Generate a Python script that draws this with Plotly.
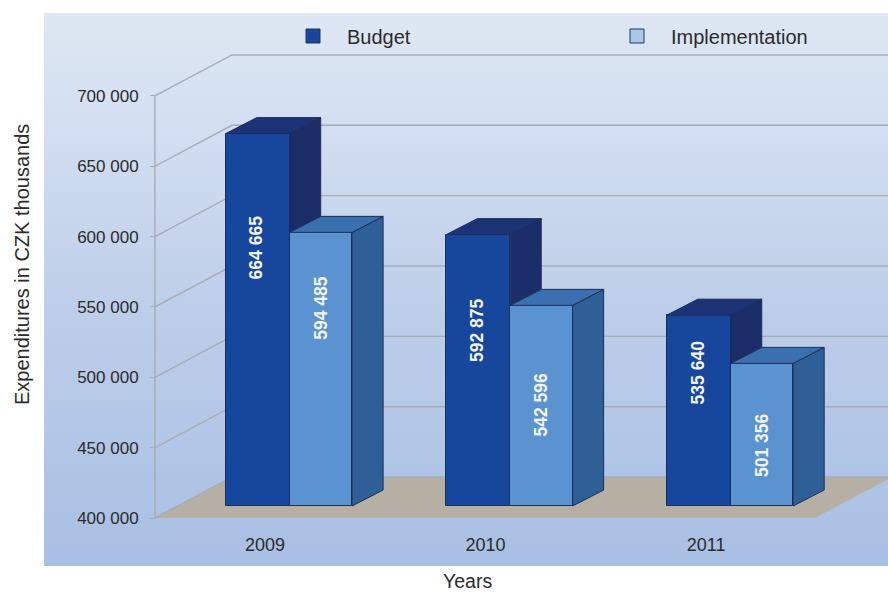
import plotly.graph_objects as go

# Values, in CZK thousands
years = [2009, 2010, 2011]
budget = [664665, 592875, 535640]
implementation = [594485, 542596, 501356]
budget_text = ["664 665", "592 875", "535 640"]
implementation_text = ["594 485", "542 596", "501 356"]

# Axis ticks
y_ticks = [400000, 450000, 500000, 550000, 600000, 650000, 700000]
y_tick_text = ["400 000", "450 000", "500 000", "550 000", "600 000", "650 000", "700 000"]

# Height at which each rotated value label sits
budget_label_y = [592600, 533600, 503800]
implementation_label_y = [549300, 481000, 451900]

# Pseudo-3D projection, in axis units
W, H = 888, 594
X_RANGE = [2007.998, 2011.825]
Y_RANGE = [365885, 758920]
Y_FLOOR = 400000
AXIS_X, FLOOR_RIGHT_X = 2008.501, 2011.494
WALL_DX, WALL_DY = 0.349, 29100
BAR_LIFT = 8529
BAR_DX, BAR_DY = 0.1406, 11370
BUDGET_L, BUDGET_W = -0.178, 0.29
IMPL_L, IMPL_W = 0.112, 0.283

BUDGET_FRONT, BUDGET_TOP, BUDGET_SIDE = "#17479c", "#1c3376", "#1b2e69"
IMPL_FRONT, IMPL_TOP, IMPL_SIDE = "#5a93d0", "#3a70ad", "#2f5f97"
EDGE = "#1b2e5c"
GRID = "#a8abb6"
TEXT = "#2b2b2b"
FONT = "Liberation Sans"


def polygons(polys):
    xs, ys = [], []
    for poly in polys:
        for px, py in poly + [poly[0]]:
            xs.append(px)
            ys.append(py)
        xs.append(None)
        ys.append(None)
    return xs, ys


def top_faces(left, width, values):
    out = []
    for year, v in zip(years, values):
        xl, xr, t = year + left, year + left + width, v + BAR_LIFT
        out.append([(xl, t), (xr, t), (xr + BAR_DX, t + BAR_DY), (xl + BAR_DX, t + BAR_DY)])
    return out


def side_faces(left, width, values, lower):
    out = []
    for year, v, low in zip(years, values, lower):
        xr, t, b = year + left + width, v + BAR_LIFT, low + BAR_LIFT
        out.append([(xr, t), (xr + BAR_DX, t + BAR_DY), (xr + BAR_DX, b + BAR_DY), (xr, b)])
    return out


fig = go.Figure()

# Backdrop, floor and wall lines live on the lower subplot
fig.add_trace(go.Scatter(
    x=[X_RANGE[0], X_RANGE[1], X_RANGE[1], X_RANGE[0], X_RANGE[0]],
    y=[Y_RANGE[1], Y_RANGE[1], Y_RANGE[0], Y_RANGE[0], Y_RANGE[1]],
    mode="none", fill="toself", showlegend=False, hoverinfo="skip",
    fillgradient=dict(type="vertical", colorscale=[
        [0, "#a8bfe3"], [0.45, "#bccde8"], [0.8, "#d3dff1"], [1, "#dee7f3"]]),
))
fx, fy = polygons([[
    (AXIS_X, Y_FLOOR), (AXIS_X + WALL_DX, Y_FLOOR + WALL_DY),
    (FLOOR_RIGHT_X + WALL_DX, Y_FLOOR + WALL_DY), (FLOOR_RIGHT_X, Y_FLOOR)]])
fig.add_trace(go.Scatter(x=fx, y=fy, mode="none", fill="toself", fillcolor="#b5b0a3",
                         showlegend=False, hoverinfo="skip"))

wall_x, wall_y = [AXIS_X, AXIS_X, None], [Y_FLOOR, y_ticks[-1], None]
for tick in y_ticks:
    wall_x += [AXIS_X, AXIS_X + WALL_DX, X_RANGE[1], None]
    wall_y += [tick, tick + WALL_DY, tick + WALL_DY, None]
fig.add_trace(go.Scatter(x=wall_x, y=wall_y, mode="lines", line=dict(color=GRID, width=1.4),
                         showlegend=False, hoverinfo="skip"))

# Front faces
fig.add_trace(go.Bar(
    x=[y + BUDGET_L + BUDGET_W / 2 for y in years], y=[v - Y_FLOOR for v in budget],
    base=Y_FLOOR + BAR_LIFT, width=BUDGET_W, marker=dict(color=BUDGET_FRONT, line=dict(color=EDGE, width=1)),
    xaxis="x2", yaxis="y2", showlegend=False, name="Budget",
))
fig.add_trace(go.Bar(
    x=[y + IMPL_L + IMPL_W / 2 for y in years], y=[v - Y_FLOOR for v in implementation],
    base=Y_FLOOR + BAR_LIFT, width=IMPL_W, marker=dict(color=IMPL_FRONT, line=dict(color=EDGE, width=1)),
    xaxis="x2", yaxis="y2", showlegend=False, name="Implementation",
))

# Top and side faces; the budget side stops where the implementation bar hides it
faces = [
    (side_faces(BUDGET_L, BUDGET_W, budget, implementation), BUDGET_SIDE),
    (top_faces(BUDGET_L, BUDGET_W, budget), BUDGET_TOP),
    (side_faces(IMPL_L, IMPL_W, implementation, [Y_FLOOR] * 3), IMPL_SIDE),
    (top_faces(IMPL_L, IMPL_W, implementation), IMPL_TOP),
]
for polys, colour in faces:
    px, py = polygons(polys)
    fig.add_trace(go.Scatter(x=px, y=py, mode="lines", fill="toself", fillcolor=colour,
                             line=dict(color=EDGE, width=1), xaxis="x2", yaxis="y2",
                             showlegend=False, hoverinfo="skip"))

# Legend keys
for name, colour in [("Budget", "#17479c"), ("Implementation", "#a9c8e8")]:
    fig.add_trace(go.Scatter(x=[None], y=[None], mode="markers", name=name, xaxis="x2", yaxis="y2",
                             marker=dict(symbol="square", size=14, color=colour, line=dict(color="#2a3550", width=1))))

# Rotated value labels
annotations = []
for year, t, ly in zip(years, budget_text, budget_label_y):
    annotations.append(dict(x=year + BUDGET_L + BUDGET_W / 2 - 0.006, y=ly, text=t, textangle=-90, showarrow=False,
                            xref="x2", yref="y2", font=dict(family=FONT, size=17.5, color="#f4f6fb", weight="bold")))
for year, t, ly in zip(years, implementation_text, implementation_label_y):
    annotations.append(dict(x=year + IMPL_L + IMPL_W / 2, y=ly, text=t, textangle=-90, showarrow=False,
                            xref="x2", yref="y2", font=dict(family=FONT, size=17.5, color="#f4f6fb", weight="bold")))

# Axis titles
annotations.append(dict(x=22 / W, y=1 - 265 / H, xref="paper", yref="paper", xanchor="center", yanchor="middle",
                        text="Expenditures in CZK thousands", textangle=-90, showarrow=False,
                        font=dict(family=FONT, size=20, color=TEXT)))
annotations.append(dict(x=467 / W, y=0, xref="paper", yref="paper", xanchor="center", yanchor="bottom",
                        text="Years", showarrow=False, font=dict(family=FONT, size=19.5, color=TEXT)))

x_domain = [44 / W, 1]
y_domain = [1 - 566 / H, 1 - 13 / H]
fig.update_layout(
    width=W, height=H, margin=dict(l=0, r=0, t=0, b=0, autoexpand=False),
    paper_bgcolor="#ffffff", plot_bgcolor="rgba(0,0,0,0)", barmode="overlay", bargap=0,
    font=dict(family=FONT, color=TEXT),
    annotations=annotations,
    legend=dict(orientation="h", x=279 / W, y=1 - 36 / H, xanchor="left", yanchor="middle",
                entrywidth=251, entrywidthmode="pixels", itemwidth=58, bgcolor="rgba(0,0,0,0)",
                font=dict(family=FONT, size=20, color=TEXT)),
    xaxis=dict(domain=x_domain, range=X_RANGE, anchor="free", position=(H - 532) / H,
               tickvals=years, ticktext=[str(y) for y in years], showgrid=False, zeroline=False,
               showline=False, ticks="", tickfont=dict(family=FONT, size=18, color=TEXT)),
    yaxis=dict(domain=y_domain, range=Y_RANGE, anchor="free",
               position=155 / W, tickvals=y_ticks, ticktext=y_tick_text,
               showgrid=False, zeroline=False, showline=False, ticks="outside", ticklen=5,
               ticklabelstandoff=8, tickcolor=GRID, tickfont=dict(family=FONT, size=17, color=TEXT)),
    xaxis2=dict(domain=x_domain, range=X_RANGE, overlaying="x", visible=False, anchor="y2"),
    yaxis2=dict(domain=y_domain, range=Y_RANGE, overlaying="y", visible=False, anchor="x2"),
)

fig.write_html("out.html")
